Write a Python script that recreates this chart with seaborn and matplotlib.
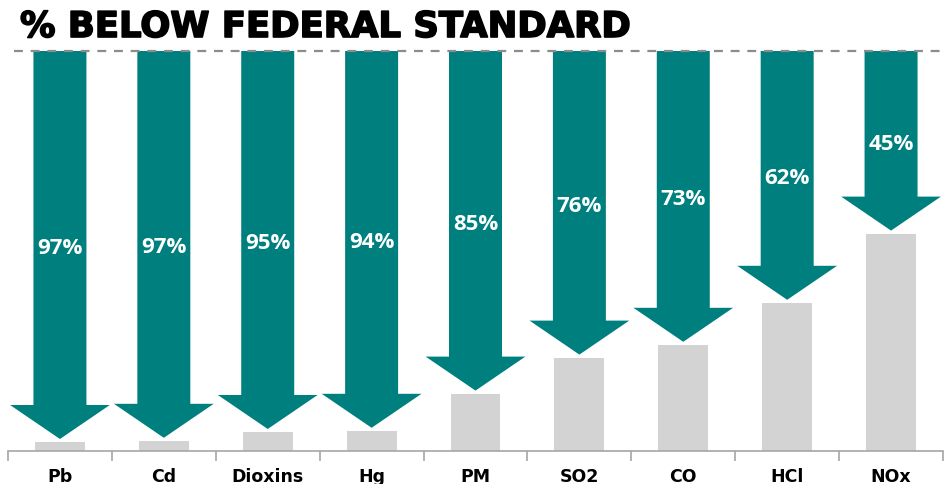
import matplotlib
matplotlib.use("Agg")
import matplotlib.pyplot as plt
import seaborn as sns
import pandas as pd
from matplotlib.patches import FancyArrow
import matplotlib.patheffects as pe

categories = ["Pb", "Cd", "Dioxins", "Hg", "PM", "SO2", "CO", "HCl", "NOx"]
pct_below = [97, 97, 95, 94, 85, 76, 73, 62, 45]
remaining = [2.2, 2.5, 4.7, 5.0, 14.3, 23.3, 26.5, 37.0, 54.3]
pct_labels = [f"{v}%" for v in pct_below]

TEAL = "#007F7F"
GRAY = "#D3D3D3"

sns.set_theme(style="white")
plt.rcParams["font.family"] = ["DejaVu Sans"]

W, H = 949, 485
fig = plt.figure(figsize=(W / 100, H / 100), dpi=100)
ax = fig.add_axes([8 / W, (H - 452) / H, (943 - 8) / W, (452 - 52) / H])

df = pd.DataFrame({"cat": categories, "rem": remaining})
sns.barplot(data=df, x="cat", y="rem", color=GRAY, width=0.48, saturation=1,
            ax=ax, edgecolor="none")

ax.set_xlim(-0.5, len(categories) - 0.5)
ax.set_ylim(0, 100)

for i, (rem, lab) in enumerate(zip(remaining, pct_labels)):
    tip = rem + 0.8
    length = 100 - tip
    ar = FancyArrow(i, 100, 0, -length, width=0.51, head_width=0.96,
                    head_length=8.5, length_includes_head=True,
                    color=TEAL, linewidth=0, zorder=3)
    ax.add_patch(ar)
    ax.text(i, (100 + tip) / 2 - 0.6, lab, ha="center", va="center", color="white",
            fontsize=16, fontweight="bold", family=["Open Sans", "DejaVu Sans"],
            zorder=4)

# dashed reference line at 100%
ax.plot([-0.44, 8.5], [100, 100], ls=(0, (4, 3.5)), color="#8C8C8C", lw=1.6,
        clip_on=False, zorder=5)

for s in ["top", "right", "left"]:
    ax.spines[s].set_visible(False)
ax.spines["bottom"].set_color("#A6A6A6")
ax.spines["bottom"].set_linewidth(1.2)
ax.set_yticks([])
ax.set_xlabel("")
ax.set_ylabel("")
ax.set_xticks(range(len(categories)))
ax.set_xticklabels(categories, fontsize=12.5, fontweight="bold", color="black")
ax.tick_params(axis="x", which="major", length=0, pad=11.5)
ax.set_xticks([i - 0.5 for i in range(len(categories) + 1)], minor=True)
ax.tick_params(axis="x", which="minor", length=7, width=1.2, color="#A6A6A6",
               bottom=True)

fig.text(20 / W, 1 - 28 / H, "% BELOW FEDERAL STANDARD", fontsize=25.5,
         fontweight="heavy", color="black", ha="left", va="center",
         path_effects=[pe.withStroke(linewidth=1.2, foreground="black")])

fig.savefig("out.png", dpi=100)
